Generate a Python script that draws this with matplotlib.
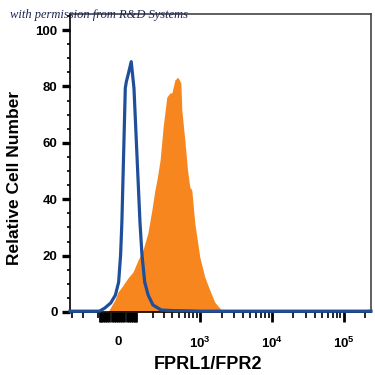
import numpy as np
import matplotlib
matplotlib.use("Agg")
import matplotlib.pyplot as plt
import matplotlib.ticker as mticker

# isotype control (blue line)
ctrl_x = [-320, -90, -63, -34, -12, 3, 12, 18, 26, 34, 39, 47, 63, 77,
          93, 110, 122, 139, 162, 197, 270, 400, 713, 1000, 10000,
          100000, 240000]
ctrl_y = [0.3, 0.3, 1.4, 3.2, 6.0, 10.6, 20.2, 31.9, 55.7, 79.4, 81.7,
          84, 88.8, 79.4, 55.7, 31.9, 20.2, 10.6, 6.0, 2.5, 0.7, 0.5,
          0.4, 0.3, 0.3, 0.3, 0.3]

# FPRL1/FPR2 stained cells (orange fill)
fpr_x = [-320, -47, -23, -14, 0, 18, 47, 72, 99, 128, 160, 189, 213,
         230, 259, 289, 329, 367, 392, 435, 480, 531, 548, 605, 661,
         713, 760, 838, 986, 1159, 1361, 1598, 1876, 2066, 100000,
         150000, 180000, 215000, 240000]
fpr_y = [0, 0, 3.2, 4.3, 7.1, 8.9, 12.1, 14.2, 18.4, 22, 28, 36.2, 43.3,
         46.8, 53.9, 65.6, 76.2, 77.7, 77.7, 82.3, 83.3, 81.2, 71.6, 61,
         50.4, 44.3, 43.3, 31.6, 19.5, 12.4, 7.8, 3.5, 1.4, 0, 0, 0.2,
         0.6, 1.0, 1.1]

x_major = [0, 1e3, 1e4, 1e5]
x_major_labels = ["0", r"$\mathbf{10^{3}}$", r"$\mathbf{10^{4}}$", r"$\mathbf{10^{5}}$"]
y_major = [0, 20, 40, 60, 80, 100]

plt.rcParams.update({
    "font.family": ["Liberation Sans", "DejaVu Sans"],
    "mathtext.fontset": "custom",
    "mathtext.rm": "Liberation Sans",
    "mathtext.bf": "Liberation Sans:bold",
})

blue = "#1f4f9b"
orange = "#f7861f"

fig = plt.figure(figsize=(3.75, 3.75), dpi=100)
ax = fig.add_axes([70 / 375, 63 / 375, 301 / 375, 298 / 375])

ax.set_xscale("function", functions=(lambda v: np.arcsinh(np.asarray(v) / 144.0),
                                     lambda v: 144.0 * np.sinh(np.asarray(v))))

ax.fill_between(fpr_x, fpr_y, 0, color=orange, linewidth=0, zorder=2)
ax.plot(ctrl_x, ctrl_y, color=blue, linewidth=2.3, zorder=3, clip_on=False)

ax.set_xlim(-320, 240000)
ax.set_ylim(0, 105.7)

# ticks: heavy cluster around zero like the cytometer software draws
near_zero = [v for v in range(-90, 100, 10) if v != 0]
ax.xaxis.set_major_locator(mticker.FixedLocator(x_major + near_zero))
lab = dict(zip(x_major, x_major_labels))
ax.xaxis.set_major_formatter(mticker.FuncFormatter(lambda v, p: lab.get(v, "")))
minor = [-300, -200, -100]
for dec in [100, 1000, 10000]:
    minor += [m * dec for m in range(2, 10)]
minor += [200000]
ax.xaxis.set_minor_locator(mticker.FixedLocator(minor))
ax.tick_params(axis="x", which="major", length=7, width=2.0, pad=10,
               labelsize=9.5, direction="out")
ax.tick_params(axis="x", which="minor", length=4, width=1.2, direction="out")

ax.set_yticks(y_major)
ax.yaxis.set_minor_locator(mticker.MultipleLocator(5))
ax.tick_params(axis="y", which="major", length=6, width=2.4, pad=3,
               labelsize=9.5)
ax.tick_params(axis="y", which="minor", length=2.5, width=1.2)
for t in ax.get_xticklabels() + ax.get_yticklabels():
    t.set_fontweight("bold")

for s in ["top", "right"]:
    ax.spines[s].set_color("#444444")
    ax.spines[s].set_linewidth(1.2)
ax.spines["left"].set_linewidth(1.2)
ax.spines["bottom"].set_linewidth(1.2)

ax.set_xlabel("FPRL1/FPR2", fontsize=13, fontweight="bold")
ax.xaxis.set_label_coords(0.458, -0.148)
ax.set_ylabel("Relative Cell Number", fontsize=12.5, fontweight="bold")
ax.yaxis.set_label_coords(-0.16, 0.45)

fig.text(10 / 375, 1 - 15 / 375, "with permission from R&D Systems",
         family="Liberation Serif", style="italic", fontsize=9,
         color="#1b2450", ha="left", va="center")

fig.savefig("out.png", dpi=100)
